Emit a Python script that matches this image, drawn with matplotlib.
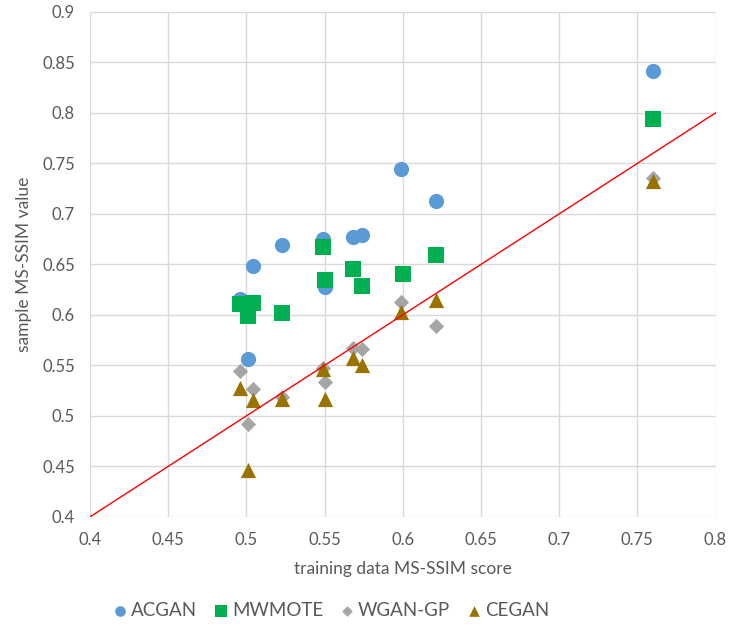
#!/usr/bin/env python3
# -*- coding: utf-8 -*-
"""
Sample MS-SSIM vs training data MS-SSIM, per oversampling method
"""

import numpy as np
import matplotlib
matplotlib.use("Agg")
import matplotlib.pyplot as plt

# ---------------------------------------------------------------------------
# DATA
# ---------------------------------------------------------------------------
acgan_x = [0.496, 0.504, 0.501, 0.523, 0.549, 0.550, 0.568, 0.574, 0.599, 0.621, 0.760]
acgan_y = [0.616, 0.648, 0.556, 0.669, 0.675, 0.628, 0.677, 0.679, 0.744, 0.713, 0.842]

mwmote_x = [0.496, 0.504, 0.501, 0.523, 0.549, 0.550, 0.568, 0.574, 0.600, 0.621, 0.760]
mwmote_y = [0.611, 0.612, 0.599, 0.602, 0.667, 0.635, 0.645, 0.629, 0.640, 0.659, 0.794]

wgan_x = [0.496, 0.504, 0.501, 0.523, 0.549, 0.550, 0.568, 0.574, 0.599, 0.621, 0.760]
wgan_y = [0.544, 0.527, 0.492, 0.519, 0.547, 0.534, 0.567, 0.566, 0.613, 0.589, 0.736]

cegan_x = [0.496, 0.504, 0.501, 0.523, 0.549, 0.550, 0.568, 0.574, 0.599, 0.621, 0.760]
cegan_y = [0.528, 0.516, 0.446, 0.517, 0.546, 0.517, 0.557, 0.550, 0.603, 0.615, 0.733]

diag = [0.4, 0.8]

x_ticks = [0.4, 0.45, 0.5, 0.55, 0.6, 0.65, 0.7, 0.75, 0.8]
y_ticks = [0.4, 0.45, 0.5, 0.55, 0.6, 0.65, 0.7, 0.75, 0.8, 0.85, 0.9]

# ---------------------------------------------------------------------------
# PLOT
# ---------------------------------------------------------------------------
plt.rcParams['font.family'] = ['Lato', 'DejaVu Sans']
txt = '#595959'

fig = plt.figure(figsize=(7.29, 6.28), dpi=100)
ax = fig.add_axes([0.1235, 0.177, 0.858, 0.804])

ax.scatter(acgan_x, acgan_y, s=120, marker='o', color='#5B9BD5', label='ACGAN', zorder=3, linewidths=0)
ax.scatter(mwmote_x, mwmote_y, s=130, marker='s', color='#00B050', label='MWMOTE', zorder=3, linewidths=0)
ax.scatter(wgan_x, wgan_y, s=60, marker='D', color='#A5A5A5', label='WGAN-GP', zorder=3, linewidths=0)
ax.scatter(cegan_x, cegan_y, s=120, marker='^', color='#997300', label='CEGAN', zorder=3, linewidths=0)
ax.plot(diag, diag, color='#FF0000', lw=1.0, zorder=4)

ax.set_xlim(0.4, 0.8)
ax.set_ylim(0.4, 0.9)
ax.set_xticks(x_ticks)
ax.set_yticks(y_ticks)
ax.set_xticklabels([('%g' % v) for v in x_ticks])
ax.set_yticklabels([('%g' % v) for v in y_ticks])
ax.tick_params(length=0, labelsize=12, colors=txt, pad=11)
ax.grid(True, color='#D9D9D9', lw=1.0, zorder=0)
for s in ax.spines.values():
    s.set_visible(False)
ax.set_axisbelow(True)

ax.set_xlabel('training data MS-SSIM score', fontsize=12.5, color=txt, labelpad=9)
ax.set_ylabel('sample MS-SSIM value', fontsize=12.5, color=txt, labelpad=7)

leg = fig.legend(loc='lower center', bbox_to_anchor=(0.456, -0.012), ncol=4, frameon=False,
                 fontsize=13.5, handlelength=0.5, handletextpad=0.35, columnspacing=1.0,
                 markerscale=0.7)
for t in leg.get_texts():
    t.set_color(txt)

fig.savefig('out.png', dpi=100)
